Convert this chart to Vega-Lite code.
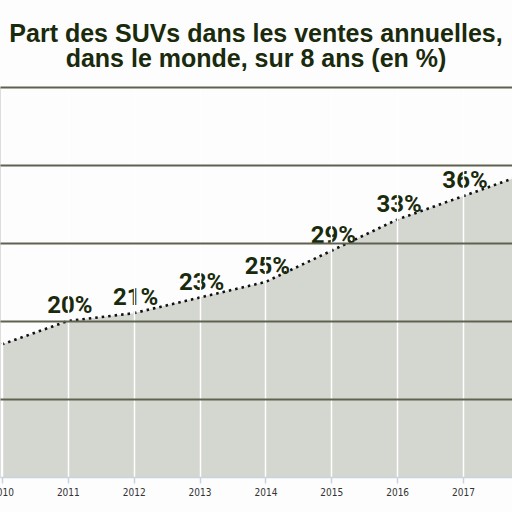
{
  "$schema": "https://vega.github.io/schema/vega-lite/v6.json",
  "width": 512,
  "height": 390,
  "autosize": {"type": "none"},
  "padding": {"top": 87, "left": 0, "right": 0, "bottom": 35},
  "background": "#fdfdfd",
  "title": {
    "text": ["Part des SUVs dans les ventes annuelles,", "dans le monde, sur 8 ans (en %)"],
    "font": "Liberation Sans",
    "fontSize": 25,
    "fontWeight": "bold",
    "color": "#1a2a0c",
    "anchor": "middle",
    "lineHeight": 25,
    "offset": 15
  },
  "data": {
    "values": [
      {"year": 2010, "share": 17},
      {"year": 2011, "share": 20},
      {"year": 2012, "share": 21},
      {"year": 2013, "share": 23},
      {"year": 2014, "share": 25},
      {"year": 2015, "share": 29},
      {"year": 2016, "share": 33},
      {"year": 2017, "share": 36},
      {"year": 2018, "share": 39}
    ]
  },
  "encoding": {
    "x": {
      "field": "year",
      "type": "quantitative",
      "scale": {"domain": [2009.97, 2017.744], "nice": false, "zero": false},
      "axis": {
        "title": null,
        "values": [2010, 2011, 2012, 2013, 2014, 2015, 2016, 2017],
        "format": "d",
        "labelFont": "DejaVu Sans Condensed",
        "labelFontSize": 10,
        "labelColor": "#333333",
        "labelPadding": 4,
        "labelFlush": false,
        "labelOverlap": false,
        "tickColor": "#c9d3dc",
        "tickSize": 6,
        "tickWidth": 1.5,
        "domainColor": "#c9d3dc",
        "domainWidth": 1.5,
        "grid": true,
        "gridColor": "#ffffff",
        "gridWidth": 1.5,
        "zindex": 1
      }
    },
    "y": {
      "field": "share",
      "type": "quantitative",
      "scale": {"domain": [0, 50], "nice": false},
      "axis": {
        "title": null,
        "values": [10, 20, 30, 40, 50],
        "labels": false,
        "ticks": false,
        "domain": false,
        "grid": true,
        "gridColor": "#5f624f",
        "gridWidth": 2,
        "zindex": 1
      }
    }
  },
  "layer": [
    {"mark": {"type": "area", "color": "#d4d6d0", "clip": true}},
    {"mark": {"type": "line", "color": "#111111", "strokeWidth": 2.6, "strokeDash": [2.5, 4], "clip": true}},
    {
      "transform": [
        {"filter": "datum.year >= 2011 && datum.year <= 2017"},
        {"calculate": "datum.share + '%'", "as": "label"}
      ],
      "mark": {
        "type": "text",
        "font": "Roboto",
        "fontWeight": "bold",
        "fontSize": 24,
        "color": "#1a2a0c",
        "baseline": "middle",
        "dx": 2,
        "dy": -15
      },
      "encoding": {"text": {"field": "label"}}
    }
  ]
}
